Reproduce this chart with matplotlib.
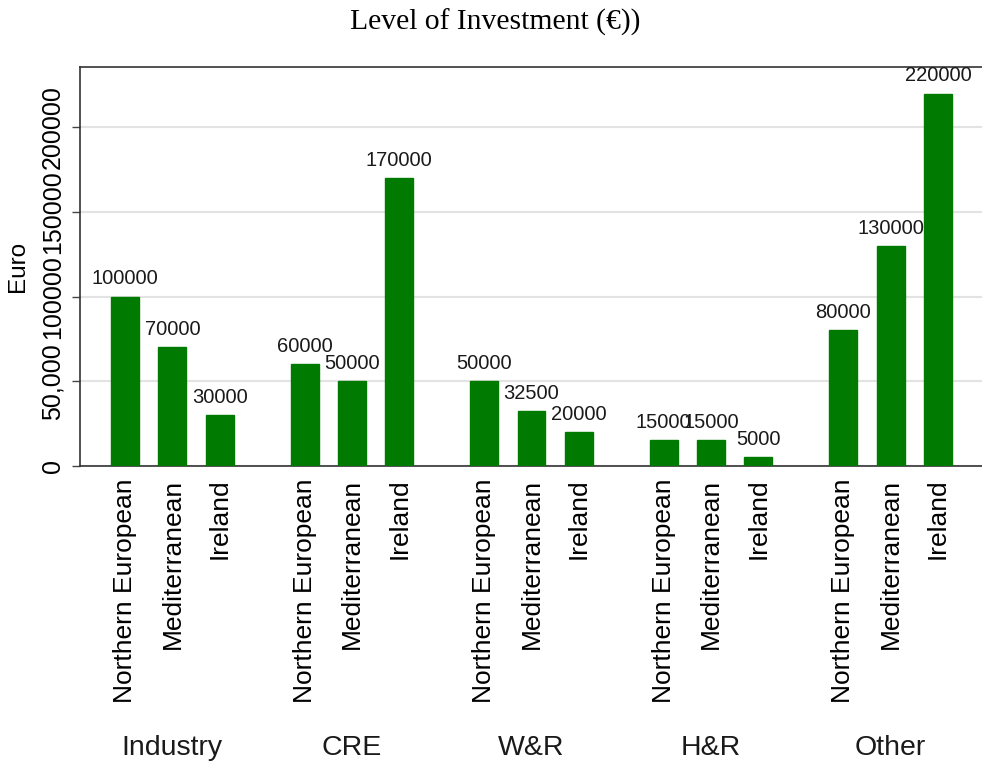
import matplotlib
matplotlib.use("Agg")
import matplotlib.pyplot as plt
import numpy as np

groups = ["Industry", "CRE", "W&R", "H&R", "Other"]
regions = ["Northern European", "Mediterranean", "Ireland"]
values = [
    [100000, 70000, 30000],
    [60000, 50000, 170000],
    [50000, 32500, 20000],
    [15000, 15000, 5000],
    [80000, 130000, 220000],
]
ytick_vals = [0, 50000, 100000, 150000, 200000]
ytick_labels = ["0", "50,000", "100000", "150000", "200000"]

plt.rcParams['font.family'] = ['Liberation Sans', 'DejaVu Sans']

fig = plt.figure(figsize=(9.82, 7.65), dpi=100)
ax = fig.add_axes([0.0815, 0.391, 0.9185, 0.521])

gstep = 3.79
xs, hs, labs = [], [], []
for g, vals in enumerate(values):
    for i, v in enumerate(vals):
        xs.append(g * gstep + i)
        hs.append(v)
        labs.append(regions[i])

ax.bar(xs, hs, width=0.59, color="#007a00", edgecolor="#007a00", zorder=3)
for x, h in zip(xs, hs):
    ax.annotate(f"{h}", (x, h), xytext=(0, 6), textcoords="offset points",
                ha="center", va="bottom", fontsize=14.5, color="#1a1a1a", zorder=4)

ax.set_xlim(-0.95, 4 * gstep + 2 + 0.93)
ax.set_ylim(0, 235500)
ax.set_xticks(xs)
ax.set_xticklabels(labs, rotation=90, fontsize=19, va="top", ha="center")
ax.tick_params(axis="x", length=0, pad=9)
ax.set_yticks(ytick_vals)
ax.set_yticklabels(ytick_labels, rotation=90, va="center", fontsize=18)
ax.tick_params(axis="y", length=6, width=1, color="#444444", pad=5)
ax.yaxis.grid(True, color="#e3e3e3", linewidth=1.5, zorder=0)
ax.spines["right"].set_visible(False)
for s in ["left", "top", "bottom"]:
    ax.spines[s].set_color("#333333")
    ax.spines[s].set_linewidth(1.2)
ax.set_ylabel("Euro", fontsize=17.5)
ax.yaxis.set_label_coords(-0.057, 0.5)

for g, name in enumerate(groups):
    xc = g * gstep + 1
    ax.text(xc, -0.7075, name, transform=ax.get_xaxis_transform(), ha="center",
            va="center", fontsize=20.5, color="#1a1a1a")

fig.text(0.504, 0.971, "Level of Investment (€))", ha="center", va="center",
         fontsize=21.3, family=["Liberation Serif", "DejaVu Serif"])

fig.savefig("out.png", dpi=100)
